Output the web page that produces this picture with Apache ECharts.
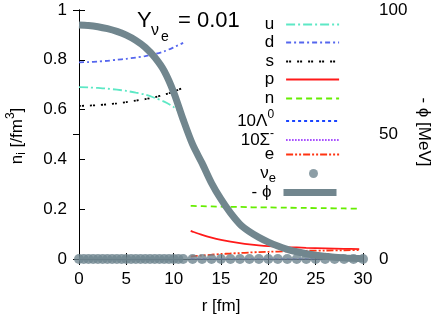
<!DOCTYPE html>
<html><head><meta charset="utf-8">
<script src="https://cdn.jsdelivr.net/npm/echarts@6/dist/echarts.min.js"></script>
<style>html,body{margin:0;padding:0;background:#fff}#c{width:436px;height:318px}</style>
</head><body><div id="c"></div>
<script>
// ---- data ----
const rQuark = [0,1,2,3,4,5,6,7,8,9,10,11];
const uVals  = [0.690,0.689,0.687,0.684,0.680,0.675,0.668,0.660,0.647,0.632,0.610,0.577];
const dVals  = [0.790,0.791,0.793,0.796,0.800,0.804,0.809,0.815,0.823,0.834,0.850,0.868];
const sVals  = [0.615,0.616,0.618,0.621,0.625,0.630,0.636,0.642,0.650,0.660,0.672,0.688];
const rHadron = [11.8,12,13,14,15,16,17,18,19,20,22,24,26,28,29.6];
const pVals   = [0.113,0.110,0.097,0.086,0.077,0.070,0.064,0.059,0.055,0.052,0.048,0.045,0.043,0.041,0.040];
const nVals   = [0.213,0.213,0.212,0.211,0.210,0.209,0.209,0.208,0.207,0.207,0.206,0.205,0.204,0.203,0.202];
const lamVals = [0,0,0,0,0,0,0,0,0,0,0,0,0,0,0];
const sigVals = [0,0,0,0,0,0,0,0,0,0,0,0,0,0,0];
const eVals   = [0.010,0.011,0.014,0.017,0.020,0.022,0.024,0.026,0.028,0.029,0.031,0.033,0.034,0.035,0.036];
const rNu   = [0,0.5,1,1.5,2,2.5,3,3.5,4,4.5,5,5.5,6,6.5,7,7.5,8,8.5,9,9.5,10,10.5,11,12,13,14,15,16,17,18,19,20,21,22,23,24,25,26,27,28,29,30];
const nuVals= [0,0,0,0,0,0,0,0,0,0,0,0,0,0,0,0,0,0,0,0,0,0,0,0,0,0,0,0,0,0,0,0,0,0,0,0,0,0,0,0,0,0];
const rPhi   = [0,1,2,3,4,5,6,7,8,9,10,11,12,13,14,15,16,17,18,19,20,21,22,23,24,25,26,27,28,29,30];
const phiVals= [94,93.8,93.3,92.5,91.4,89.9,87.8,85,81,75.5,67,56,46,38.5,30.5,24,18.5,14,11,8.7,6.8,5.2,3.9,2.9,2.1,1.5,1.1,0.7,0.45,0.25,0.1];
const xTicks = [0,5,10,15,20,25,30];
const yTicksLeft = [0,0.2,0.4,0.6,0.8,1];
const yTicksRight = [0,50,100];
const names = ['u','d','s','p','n','10Λ0','10Σ-','e','νe','- ϕ'];
const labels = ['u','d','s','p','n','10Λ{sup|0}','10Σ{sup|-}','e','ν{sub|e}','- ϕ'];
// ---- chart ----
const FONT = '"Liberation Sans", Arial, sans-serif';
const zip = (xs, ys) => xs.map((x,i)=>[x, ys[i]]);
const chart = echarts.init(document.getElementById('c'), null, {renderer:'canvas'});
function lineSeries(name, xs, ys, color, type, width, yIndex, smooth, z){
  return {name, type:'line', data: zip(xs, ys), yAxisIndex: yIndex||0, symbol:'none', showSymbol:false, z: z||2,
    smooth: smooth||false, lineStyle:{color, type, width: width||1.8}, itemStyle:{color}, animation:false, clip:true};
}
const series = [
  lineSeries('u', rQuark, uVals, '#5de8c5', [9,3,2,3], 1.8, 0, 0.3),
  lineSeries('d', rQuark, dVals, '#5566ee', [5,3,2,3], 1.8, 0, 0.3),
  lineSeries('s', rQuark, sVals, '#000000', [2,1,2,6], 1.8, 0, 0.3),
  lineSeries('p', rHadron, pVals, '#ff1a1a', 'solid', 1.8, 0, 0.3),
  lineSeries('n', rHadron, nVals, '#66ee00', [6,4], 1.8, 0, 0.3),
  lineSeries('10Λ0', rHadron, lamVals, '#1a44ff', [3,3], 1.2, 0, false, 1),
  lineSeries('10Σ-', rHadron, sigVals, '#a040ff', [1.5,1.5], 1.2, 0, false, 1),
  lineSeries('e', rHadron, eVals, '#ff3311', [7,2,2,2,2,2], 1.8, 0, 0.3),
  {name:'νe', type:'scatter', data: zip(rNu, nuVals), symbol:'circle', symbolSize:10, z:3,
    itemStyle:{color:'#6f8690'}, animation:false, clip:false},
  lineSeries('- ϕ', rPhi, phiVals, '#71868e', 'solid', 7, 1, 0.3, 4)
];
const legendCenters = [25,43,62,80,99,118,137,155,174,193];
const richLegend = {sup:{fontFamily:FONT, fontSize:12, padding:[0,0,12,0]}, sub:{fontFamily:FONT, fontSize:13, padding:[10,0,0,0]}};
const legends = names.map((nm,i)=>{
  const isNu = nm==='νe';
  return {
    data:[nm], right: isNu ? 118 : 96, top: legendCenters[i]-9, orient:'vertical', align:'right', padding:0,
    itemWidth: isNu ? 9 : 53, itemHeight: isNu ? 9 : 18, selectedMode:false,
    formatter: ()=>labels[i],
    itemStyle: isNu ? {} : {opacity:0, color:'rgba(0,0,0,0)', borderWidth:0},
    lineStyle: nm==='- ϕ' ? {width:7} : {width:1.8},
    textStyle:{fontFamily:FONT, fontSize:17, color:'#000', padding:[0, isNu ? 28 : 7, 0, 0], rich: richLegend}
  };
});
const axisCommon = {axisLine:{show:true, lineStyle:{color:'#000', width:1}}, splitLine:{show:false},
  axisTick:{show:true, inside:true, length:6, lineStyle:{color:'#000'}}};
chart.setOption({
  backgroundColor:'#fff',
  animation:false,
  grid:{left:79, right:73, top:10, bottom:59, containLabel:false},
  xAxis:[
    Object.assign({type:'value', min:xTicks[0], max:xTicks[xTicks.length-1], interval:5, position:'bottom',
      axisLabel:{fontFamily:FONT, fontSize:17, color:'#000', margin:12}}, axisCommon),
    Object.assign({type:'value', min:xTicks[0], max:xTicks[xTicks.length-1], interval:5, position:'top',
      axisLabel:{show:false}}, axisCommon)
  ],
  yAxis:[
    Object.assign({type:'value', min:yTicksLeft[0], max:yTicksLeft[yTicksLeft.length-1], interval:0.2, position:'left',
      axisLabel:{fontFamily:FONT, fontSize:17, color:'#000', margin:12, formatter:v=>String(+v.toFixed(1))}}, axisCommon),
    Object.assign({type:'value', min:yTicksRight[0], max:yTicksRight[yTicksRight.length-1], interval:50, position:'right',
      axisLabel:{fontFamily:FONT, fontSize:17, color:'#000', margin:16}}, axisCommon)
  ],
  legend: legends,
  series,
  graphic:[
    {type:'text', x:137, y:21, style:{text:'Y', font:'22px '+FONT, fill:'#000', verticalAlign:'middle'}},
    {type:'text', x:151, y:31, style:{text:'ν', font:'16px '+FONT, fill:'#000', verticalAlign:'middle'}},
    {type:'text', x:161, y:37, style:{text:'e', font:'14px '+FONT, fill:'#000', verticalAlign:'middle'}},
    {type:'text', x:178, y:21, style:{text:'= 0.01', font:'22px '+FONT, fill:'#000', verticalAlign:'middle'}},
    {type:'text', x:17, y:136, rotation:Math.PI/2, style:{text:'n{sub|i} [/fm{sup|3}]', font:'17px '+FONT, fill:'#000',
      align:'center', verticalAlign:'middle',
      rich:{sub:{fontSize:12, fontFamily:FONT, padding:[10,0,0,0]}, sup:{fontSize:12, fontFamily:FONT, padding:[0,0,12,0]}}}},
    {type:'text', x:424, y:132, rotation:-Math.PI/2, style:{text:'- ϕ [MeV]', font:'17px '+FONT, fill:'#000',
      align:'center', verticalAlign:'middle'}},
    {type:'text', x:221, y:306, style:{text:'r [fm]', font:'17px '+FONT, fill:'#000', align:'center', verticalAlign:'middle'}}
  ]
});
</script></body></html>
